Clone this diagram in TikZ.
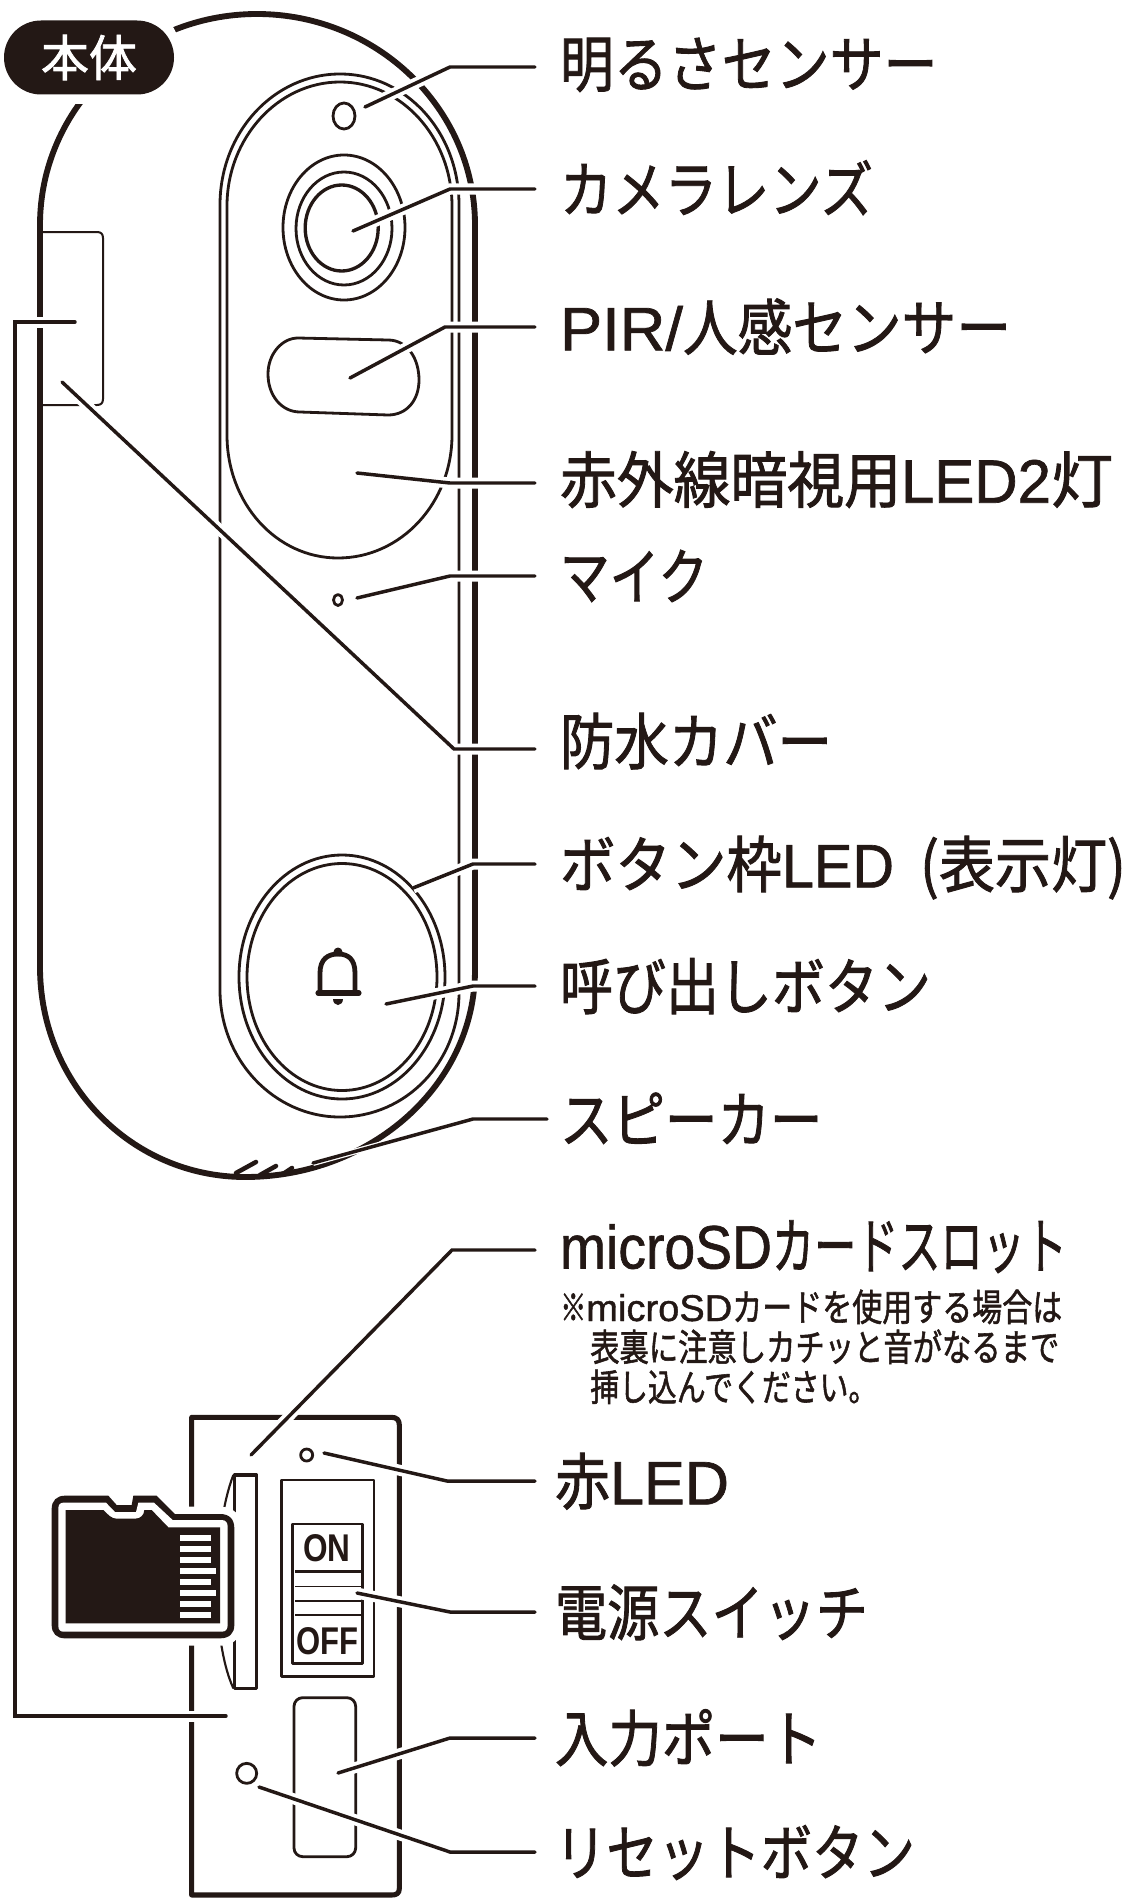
\documentclass[tikz,border=0pt]{standalone}
\usepackage{fontspec}
\usepackage{graphicx}
\setmainfont[FakeBold=1.5]{Noto Sans CJK JP}
\newfontfamily\lat[FakeBold=1.1]{Liberation Sans}
\newfontfamily\latb{Liberation Sans Bold}
\newdimen\pxu \pxu=0.75pt
\newcommand{\fitw}[2]{\resizebox{#1\pxu}{\height}{#2}}
\newcommand{\labfont}{\fontsize{46}{46}\selectfont}
\newcommand{\notefont}{\fontsize{28}{28}\selectfont}
\definecolor{ink}{HTML}{231815}
\tikzset{
  ink line/.style={draw=ink,line width=#1,line join=round},
  ink line/.default=2.1pt,
  body line/.style={ink line=4.4pt},
  thin part/.style={ink line=2.1pt},
  lab/.style={anchor=west,inner sep=0pt,outer xsep=18.75pt,text height=35pt,text depth=0pt,font=\labfont,text=ink},
  labb/.style={lab,outer xsep=15pt},
  labc/.style={lab,outer xsep=9.75pt},
  note/.style={anchor=west,inner sep=0pt,text height=21pt,text depth=0pt,font=\notefont,text=ink},
  lead/.style={draw=ink,line width=2.6pt,line cap=round,line join=miter,
     preaction={draw=white,line width=8.25pt,line cap=butt}},
  lead narrow/.style={draw=ink,line width=2.6pt,line cap=round,line join=miter,
     preaction={draw=white,line width=4.5pt,line cap=butt}},
  sw/.style={inner sep=0pt,text=ink},
}
\begin{document}
\begin{tikzpicture}[x=0.75pt,y=-0.75pt]
\useasboundingbox (0,0) rectangle (1130,1898);
\fill[white] (0,0) rectangle (1130,1898);

% body
\draw[body line] (40,225) .. controls (40,108.5) and (137,14) .. (257,14)
  .. controls (377,14) and (475,108.5) .. (475,225) -- (475,970)
  .. controls (475,1084) and (372,1177) .. (245,1177)
  .. controls (132,1177) and (40,1084) .. (40,967) -- cycle;
% badge
\fill[white,rounded corners=30pt] (-10,8) rectangle (179,104);
\node[name=badge,fill=ink,rounded corners=27.7pt,inner sep=0pt,minimum width=127.5pt,minimum height=55.5pt,anchor=center,text=white] at (89,57.5) {\fontsize{37}{37}\selectfont\fitw{96}{本体}};
% cover
\draw[ink line=1.5pt] (42,232) -- (97,232) .. controls (101,232) and (103,234) .. (103,238) -- (103,399) .. controls (103,403) and (101,405) .. (97,405) -- (42,405);
% face panel
\draw[thin part] (220,205) .. controls (220,132) and (274,74) .. (340,74) .. controls (406,74) and (459,132) .. (459,205) -- (459,993)
  .. controls (459,1062) and (406,1117) .. (340,1117) .. controls (274,1117) and (220,1060) .. (220,990) -- cycle;
\draw[thin part] (227,206) .. controls (227,138) and (278,82) .. (340,82) .. controls (402,82) and (452,138) .. (452,206) -- (452,435)
  .. controls (452,503) and (401,558) .. (338,558) .. controls (276,558) and (227,503) .. (227,435) -- cycle;
% sensors
\draw[thin part] (344,116) ellipse[x radius=11,y radius=13];
\draw[thin part] (344,227.5) ellipse[x radius=61,y radius=72.5];
\draw[thin part] (344,228.5) ellipse[x radius=48,y radius=56.5];
\draw[ink line=2.5pt] (341.7,228) ellipse[x radius=36.5,y radius=43];
\draw[thin part] (298,338) -- (388,340) .. controls (407,340) and (419,358) .. (419,380) .. controls (419,400) and (407,415) .. (388,415) -- (300,412) .. controls (282,412) and (268,396) .. (268,374) .. controls (268,354) and (282,338) .. (298,338) -- cycle;
\draw[thin part] (338,600) ellipse[x radius=4.5,y radius=5.5];
% button
\draw[thin part] (342,977) ellipse[x radius=103,y radius=122];
\draw[thin part] (342,977) ellipse[x radius=95,y radius=113.5];
% bell
\draw[ink line=3.6pt] (320,990) -- (320,973) .. controls (320,959) and (328,954) .. (338,954) .. controls (348,954) and (355,959) .. (355,973) -- (355,990);
\draw[ink line=3.8pt,line cap=round] (318,993) -- (359,993);
\fill[ink] (338,952) circle[radius=4.5];
\fill[ink] (333,999) -- (343,999) .. controls (343,1003) and (340,1005) .. (338,1005) .. controls (336,1005) and (333,1003) .. (333,999) -- cycle;
% speaker
\draw[ink line=3.4pt,line cap=round] (236,1173) -- (256,1162);
\draw[ink line=3.4pt,line cap=round] (260,1175) -- (276,1166);
\draw[ink line=3.4pt,line cap=round] (283,1174) -- (292,1168);

% lower device, in units of the enlarged crop
\begin{scope}[shift={(0,1380)},x=0.25pt,y=-0.25pt]
  \draw[ink line=3.8pt] (575,1545) -- (575,112) -- (1175,112) .. controls (1190,112) and (1198,120) .. (1198,135) -- (1198,1525) .. controls (1198,1540) and (1190,1545) .. (1175,1545) -- cycle;
  % slot
  \draw[ink line=1.6pt] (700,285) .. controls (640,440) and (630,770) .. (700,925);
  \draw[ink line=2.4pt] (703,285) rectangle (770,925);
  % switch
  \draw[thin part] (845,300) rectangle (1122,890);
  \draw[thin part] (877,432) rectangle (1087,850);
  \draw[thin part] (885,575) -- (1082,575);
  \draw[ink line=1.2pt] (885,620) -- (1082,620);
  \draw[ink line=1.2pt] (885,663) -- (1082,663);
  \draw[thin part] (885,705) -- (1082,705);
  \node[sw] (on) at (980,505) {\fontsize{29}{29}\selectfont\resizebox{35.5pt}{\height}{\latb ON}};
  \node[sw] (off) at (981,785) {\fontsize{29}{29}\selectfont\resizebox{46.5pt}{\height}{\latb OFF}};
  % port and holes
  \draw[thin part,rounded corners=6.5pt] (882,953) rectangle (1067,1430);
  \draw[thin part] (740,1180) circle[radius=30];
  \draw[thin part] (920,225) circle[radius=18];
  % card
  \draw[draw=white,line width=11pt,line join=round,fill=white] (195,347) -- (325,347) -- (350,375) -- (395,375) -- (400,347) -- (470,347) -- (525,402) -- (660,402) .. controls (688,402) and (703,417) .. (703,445) -- (703,735) .. controls (703,760) and (688,775) .. (660,775) -- (195,775) .. controls (170,775) and (155,760) .. (155,735) -- (155,387) .. controls (155,362) and (170,347) .. (195,347) -- cycle;
  \fill[ink] (195,347) -- (325,347) -- (350,375) -- (395,375) -- (400,347) -- (470,347) -- (525,402) -- (660,402) .. controls (688,402) and (703,417) .. (703,445) -- (703,735) .. controls (703,760) and (688,775) .. (660,775) -- (195,775) .. controls (170,775) and (155,760) .. (155,735) -- (155,387) .. controls (155,362) and (170,347) .. (195,347) -- cycle;
  \fill[white] (190,368) -- (318,368) -- (345,396) -- (408,396) -- (415,368) -- (462,368) -- (518,420) -- (665,420) .. controls (677,420) and (683,428) .. (683,440) -- (683,735) .. controls (683,748) and (677,755) .. (665,755) -- (190,755) .. controls (180,755) and (175,748) .. (175,738) -- (175,385) .. controls (175,375) and (180,368) .. (190,368) -- cycle;
  \fill[ink] (197,390) -- (310,390) .. controls (325,405) and (335,416) .. (350,416) -- (405,416) .. controls (422,416) and (432,405) .. (433,390) -- (455,390) -- (505,442) -- (660,442) -- (660,730) -- (197,730) -- cycle;
  \fill[white] (540,465) rectangle (633,483);
  \fill[white] (540,497) rectangle (633,516);
  \fill[white] (540,531) rectangle (633,549);
  \fill[white] (540,564) rectangle (648,582);
  \fill[white] (540,597) rectangle (633,615);
  \fill[white] (540,630) rectangle (648,648);
  \fill[white] (540,663) rectangle (633,681);
  \fill[white] (540,696) rectangle (633,714);
\end{scope}

% labels
\node[lab] (l1) at (535,67) {\raisebox{2.7pt}{\fitw{377.5}{明るさセンサー}}};
\node[lab] (l2) at (535,189) {\fitw{313}{カメラレンズ}};
\node[lab] (l3) at (535,327) {\fitw{123}{\lat PIR/}\fitw{328}{人感センサー}};
\node[lab] (l4) at (535,483) {\raisebox{2.7pt}{\fitw{341}{赤外線暗視用}\fitw{150}{\lat LED2}\fitw{62}{灯}}};
\node[lab] (l5) at (535,576) {\fitw{148}{マイク}};
\node[lab] (l6) at (535,749) {\raisebox{6pt}{\fitw{272}{防水カバー}}};
\node[lab] (l7) at (535,864) {\fitw{222}{ボタン枠}\fitw{112}{\lat LED}\kern26\pxu\fitw{206}{(表示灯)}};
\node[lab] (l8) at (535,986) {\fitw{371}{呼び出しボタン}};
\node[labc] (l9) at (547,1119) {\fitw{262.5}{スピーカー}};
\node[lab] (l10) at (535,1250) {\raisebox{3.6pt}{\fitw{212}{\lat microSD}\fitw{295}{カードスロット}}};
\node[note] (n1) at (560,1307) {\fitw{26}{※}\fitw{146}{\lat microSD}\fitw{330}{カードを使用する場合は}};
\node[note] (n2) at (590,1347) {\fitw{469}{表裏に注意しカチッと音がなるまで}};
\node[note] (n3) at (590,1387) {\fitw{287}{挿し込んでください。}};
\node[labb] (l11) at (535,1481) {\fitw{55}{赤}\fitw{119}{\lat LED}};
\node[labb] (l12) at (535,1612) {\fitw{313}{電源スイッチ}};
\node[labb] (l13) at (535,1738) {\fitw{267}{入力ポート}};
\node[labb] (l14) at (535,1852) {\fitw{360}{リセットボタン}};

% connector ends
\coordinate (a1) at (365,107);  \coordinate (e1) at (450,67);
\coordinate (a2) at (353,231);  \coordinate (e2) at (450,189);
\coordinate (a3) at (350,378);  \coordinate (e3) at (445,327);
\coordinate (a4) at (357,473);  \coordinate (e4) at (450,483);
\coordinate (a5) at (357,598);  \coordinate (e5) at (450,576);
\coordinate (a6) at (62,382);   \coordinate (e6) at (454,749);
\coordinate (a7) at (413,888);  \coordinate (e7) at (473,864);
\coordinate (a8) at (386,1004); \coordinate (e8) at (473,986);
\coordinate (a9) at (313,1163); \coordinate (e9) at (473,1119);
\coordinate (a10) at (251,1455);\coordinate (e10) at (452,1250);
\coordinate (a11) at (324,1453);\coordinate (e11) at (447,1481);
\coordinate (a12) at (357,1593);\coordinate (e12) at (450,1612);
\coordinate (a13) at (338,1773);\coordinate (e13) at (450,1738);
\coordinate (a14) at (259,1787);\coordinate (e14) at (450,1852);
\coordinate (b1) at (75,322); \coordinate (b2) at (15,322); \coordinate (b3) at (15,1716); \coordinate (b4) at (226,1716);

\draw[lead] (a1) -- (e1) -- (l1.west);
\draw[lead] (a2) -- (e2) -- (l2.west);
\draw[lead] (a3) -- (e3) -- (l3.west);
\draw[lead] (a4) -- (e4) -- (l4.west);
\draw[lead] (a5) -- (e5) -- (l5.west);
\draw[lead] (a6) -- (e6) -- (l6.west);
\draw[lead] (a7) -- (e7) -- (l7.west);
\draw[lead] (a8) -- (e8) -- (l8.west);
\draw[lead narrow] (a9) -- (e9) -- (l9.west);
\draw[lead] (a10) -- (e10) -- (l10.west);
\draw[lead] (a11) -- (e11) -- (l11.west);
\draw[lead] (a12) -- (e12) -- (l12.west);
\draw[lead] (a13) -- (e13) -- (l13.west);
\draw[lead] (a14) -- (e14) -- (l14.west);
\draw[lead] (b1) -- (b2) -- (b3) -- (b4);
\end{tikzpicture}
\end{document}
